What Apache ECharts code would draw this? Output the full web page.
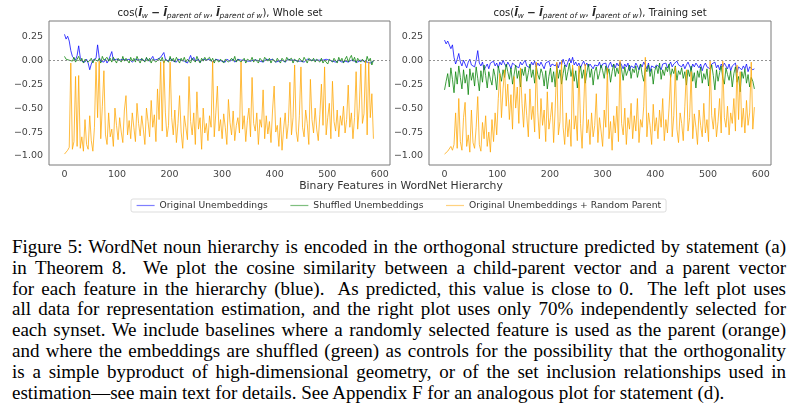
<!DOCTYPE html>
<html lang="en">
<head>
  <meta charset="UTF-8">
  <title>WordNet hierarchy</title>
  <style>
    body { margin: 0; background: #fff; }
    #echart { position: absolute; left: 0; top: 0; width: 797px; height: 222px; }
    #caption {
      position: absolute; left: 12px; top: 237px; width: 774px;
      font-family: "Liberation Serif", serif; font-size: 19px; line-height: 20.8px; color: #000;
    }
    #caption div { text-align: justify; text-align-last: justify; }
    #caption div.last { text-align-last: left; }
  </style>
</head>
<body>
  <div id="echart"></div>
  <div id="caption">
    <div>Figure 5: WordNet noun hierarchy is encoded in the orthogonal structure predicted by statement (a)</div>
    <div>in Theorem 8.&nbsp; We plot the cosine similarity between a child-parent vector and a parent vector</div>
    <div>for each feature in the hierarchy (blue).&nbsp; As predicted, this value is close to 0.&nbsp; The left plot uses</div>
    <div>all data for representation estimation, and the right plot uses only 70% independently selected for</div>
    <div>each synset. We include baselines where a randomly selected feature is used as the parent (orange)</div>
    <div>and where the embeddings are shuffled (green) as controls for the possibility that the orthogonality</div>
    <div>is a simple byproduct of high-dimensional geometry, or of the set inclusion relationships used in</div>
    <div class="last">estimation—see main text for details. See Appendix F for an analogous plot for statement (d).</div>
  </div>
  <script src="https://cdn.jsdelivr.net/npm/echarts@6/dist/echarts.min.js"></script>
  <script>
    // one value every 3 features (feature index = i * STEP)
    var STEP = 3;
    var xTicks = [0, 100, 200, 300, 400, 500, 600];
    var yTicks = [-1, -0.75, -0.5, -0.25, 0, 0.25];
    var names = ['Original Unembeddings', 'Shuffled Unembeddings', 'Original Unembeddings + Random Parent'];

    // whole set
    var wholeOrig = [
      0.27, 0.22, 0.25, 0.20, 0.10, 0.04, 0.02, 0.00, 0.05, 0.15,
      0.03, -0.01, 0.00, -0.02, 0.01, -0.03, -0.10, -0.04, 0.00, -0.02,
      0.02, 0.16, 0.03, -0.01, 0.00, -0.02, 0.01, -0.03, 0.00, 0.02,
      0.09, 0.00, -0.02, 0.01, -0.01, 0.00, -0.02, 0.01, -0.01, 0.00,
      -0.01, 0.01, 0.00, -0.02, 0.00, 0.01, -0.01, 0.00, -0.02, 0.01,
      0.00, -0.01, 0.02, 0.00, -0.01, 0.01, 0.04, 0.00, -0.02, 0.01,
      0.00, 0.03, 0.02, 0.08, 0.01, 0.00, -0.01, 0.02, 0.00, -0.01,
      0.00, -0.02, 0.01, -0.01, 0.00, 0.02, -0.01, 0.00, -0.03, 0.01,
      0.05, 0.00, 0.03, -0.01, 0.00, 0.01, -0.02, 0.00, 0.01, -0.01,
      0.00, -0.01, 0.01, 0.00, -0.02, 0.00, 0.01, -0.01, 0.00, 0.01,
      -0.01, 0.00, -0.02, 0.01, 0.00, -0.01, 0.00, 0.01, -0.02, 0.00,
      0.01, -0.01, 0.00, -0.02, 0.00, 0.01, -0.01, 0.00, -0.01, 0.01,
      0.00, -0.02, 0.00, 0.01, -0.01, 0.00, -0.02, 0.00, 0.01, -0.01,
      0.00, -0.01, 0.01, 0.00, -0.02, 0.00, -0.01, 0.01, 0.00, -0.01,
      -0.02, 0.00, 0.01, -0.01, 0.00, -0.02, 0.00, 0.01, -0.01, 0.00,
      -0.01, 0.00, -0.02, 0.00, 0.01, -0.01, 0.00, -0.02, 0.00, -0.01,
      0.00, -0.01, 0.00, -0.02, 0.00, -0.01, 0.01, -0.01, 0.00, -0.02,
      -0.01, 0.00, -0.02, -0.01, 0.00, -0.01, -0.02, 0.00, -0.01, 0.00,
      -0.02, -0.01, 0.00, -0.02, -0.01, 0.00, -0.02, -0.01, 0.00, -0.02,
      -0.01, 0.00, -0.02, -0.01, -0.03, -0.01, -0.01
    ];
    var wholeShuffled = [
      0.04, 0.01, 0.03, 0.00, 0.02, -0.01, 0.03, -0.02, 0.01, 0.04,
      -0.01, 0.02, -0.03, 0.01, 0.03, -0.02, 0.00, 0.02, -0.03, 0.01,
      0.03, -0.01, 0.02, -0.03, 0.04, 0.00, -0.02, 0.03, -0.01, 0.02,
      -0.02, 0.03, 0.00, -0.03, 0.02, 0.01, -0.02, 0.04, -0.01, 0.02,
      0.00, -0.03, 0.03, -0.01, 0.02, -0.02, 0.04, 0.00, -0.03, 0.02,
      0.01, -0.02, 0.03, -0.01, 0.02, -0.03, 0.01, 0.03, -0.02, 0.00,
      0.02, -0.01, 0.03, -0.03, 0.01, 0.02, -0.02, 0.04, -0.01, 0.02,
      -0.02, 0.03, 0.00, -0.03, 0.02, -0.01, 0.03, -0.02, 0.01, 0.02,
      -0.03, 0.02, 0.01, -0.02, 0.04, 0.00, -0.03, 0.02, -0.01, 0.03,
      0.00, -0.02, 0.03, -0.01, 0.02, -0.03, 0.01, 0.03, -0.02, 0.01,
      0.02, -0.03, 0.01, 0.03, -0.02, 0.00, 0.02, -0.01, 0.04, -0.02,
      0.01, 0.03, -0.02, 0.00, 0.02, -0.03, 0.01, 0.02, -0.01, 0.03,
      -0.02, 0.01, 0.03, -0.03, 0.02, 0.00, -0.02, 0.03, 0.01, -0.01,
      0.02, -0.03, 0.01, 0.03, -0.02, 0.02, 0.00, -0.03, 0.02, 0.01,
      -0.02, 0.03, 0.00, -0.01, 0.02, -0.03, 0.01, 0.03, -0.02, 0.02,
      0.00, -0.02, 0.03, 0.01, -0.03, 0.02, 0.04, -0.01, 0.02, -0.02,
      0.01, 0.03, -0.02, 0.02, -0.03, 0.00, 0.02, -0.04, 0.01, 0.03,
      -0.02, 0.02, 0.00, -0.03, 0.03, -0.01, 0.02, -0.03, 0.01, 0.04,
      -0.02, 0.02, 0.05, -0.01, 0.03, -0.03, 0.02, 0.04, -0.02, 0.01,
      0.03, -0.03, 0.04, -0.01, 0.02, -0.05, 0.00
    ];
    var wholeRandom = [
      -0.98, -0.96, -0.94, -0.91, -0.03, -0.93, -0.85, -0.17, -0.90, -0.16,
      -0.92, -0.80, -0.95, -0.62, -0.88, -0.93, -0.58, -0.84, -0.95, -0.70,
      -0.02, -0.60, -0.01, -0.82, -0.48, -0.11, -0.78, -0.88, -0.55, -0.80,
      -0.72, -0.90, -0.50, -0.68, -0.83, -0.60, -0.75, -0.86, -0.52, -0.37,
      -0.78, -0.63, -0.82, -0.55, -0.70, -0.85, -0.45, -0.66, -0.79, -0.58,
      -0.72, -0.88, -0.50, -0.64, -0.80, -0.42, -0.70, -0.57, -0.85, -0.30,
      -0.62, -0.02, -0.74, -0.01, -0.55, -0.80, -0.68, -0.02, -0.60, -0.78,
      -0.52, -0.86, -0.66, -0.37, -0.75, -0.92, -0.58, -0.70, -0.83, -0.17,
      -0.64, -0.78, -0.55, -0.88, -0.33, -0.72, -0.60, -0.93, -0.50, -0.76,
      -0.66, -0.84, -0.58, -0.70, -0.01, -0.80, -0.55, -0.27, -0.74, -0.62,
      -0.82, -0.56, -0.70, -0.88, -0.41, -0.65, -0.78, -0.53, -0.84, -0.68,
      -0.60, -0.76, -0.02, -0.72, -0.58, -0.85, -0.63, -0.50, -0.80, -0.18,
      -0.66, -0.74, -0.55, -0.88, -0.62, -0.70, -0.31, -0.82, -0.58, -0.77,
      -0.64, -0.86, -0.52, -0.27, -0.75, -0.68, -0.90, -0.60, -0.94, -0.72,
      -0.55, -0.82, -0.66, -0.23, -0.78, -0.60, -0.05, -0.74, -0.85, -0.58,
      -0.07, -0.70, -0.80, -0.52, -0.66, -0.88, -0.20, -0.62, -0.76, -0.50,
      -0.72, -0.84, -0.57, -0.25, -0.68, -0.07, -0.78, -0.60, -0.45, -0.82,
      -0.22, -0.64, -0.74, -0.52, -0.80, -0.58, -0.68, -0.48, -0.76, -0.62,
      -0.26, -0.70, -0.55, -0.82, -0.60, -0.12, -0.72, -0.50, -0.04, -0.66,
      -0.56, -0.01, -0.78, -0.02, -0.60, -0.35, -0.82
    ];

    // training set
    var trainOrig = [
      0.21, 0.17, 0.20, 0.19, 0.12, 0.16, 0.03, -0.04, 0.01, 0.07,
      -0.02, -0.06, 0.00, -0.04, -0.08, -0.02, 0.01, -0.05, -0.03, -0.07,
      0.00, 0.10, -0.03, -0.06, -0.02, -0.10, -0.07, -0.04, -0.09, -0.03,
      -0.05, -0.01, -0.06, -0.03, -0.08, -0.02, -0.05, 0.00, -0.04, -0.07,
      -0.02, -0.05, -0.09, -0.03, -0.01, -0.06, -0.04, -0.08, -0.02, -0.05,
      -0.03, 0.00, -0.06, -0.04, -0.08, -0.02, -0.05, -0.01, -0.07, -0.03,
      -0.06, -0.02, -0.04, -0.09, -0.03, -0.05, -0.01, -0.07, -0.04, -0.02,
      -0.06, -0.03, -0.08, -0.02, -0.05, 0.01, -0.04, -0.07, -0.02, 0.02,
      -0.03, 0.03, -0.05, -0.02, -0.06, -0.03, -0.08, -0.04, -0.01, -0.06,
      -0.03, -0.07, -0.04, -0.02, -0.09, -0.05, -0.03, -0.06, -0.02, -0.08,
      -0.04, -0.06, -0.03, -0.10, -0.05, -0.02, -0.07, -0.04, -0.08, -0.03,
      -0.06, -0.02, -0.05, -0.09, -0.04, -0.07, -0.03, -0.11, -0.06, -0.04,
      -0.08, -0.03, -0.06, -0.10, -0.04, -0.07, -0.02, -0.05, -0.09, -0.03,
      -0.12, -0.06, -0.04, -0.08, -0.05, -0.03, -0.07, -0.10, -0.04, -0.06,
      -0.03, -0.08, -0.05, -0.02, -0.07, -0.04, -0.06, -0.01, -0.05, -0.03,
      -0.07, -0.04, -0.09, -0.05, -0.02, -0.06, -0.10, -0.04, -0.07, -0.03,
      -0.05, -0.08, -0.04, -0.11, -0.06, -0.03, -0.07, -0.05, -0.09, -0.04,
      -0.06, -0.02, -0.08, -0.05, -0.10, -0.04, -0.07, -0.03, -0.06, -0.09,
      -0.04, -0.11, -0.06, -0.08, -0.03, -0.13, -0.07, -0.05, -0.10, -0.06,
      -0.09, -0.04, -0.12, -0.07, -0.05, -0.10, -0.09
    ];
    var trainShuffled = [
      -0.31, -0.22, -0.14, -0.28, -0.08, -0.20, -0.34, -0.12, -0.25, -0.06,
      -0.18, -0.30, -0.10, -0.24, -0.15, -0.36, -0.09, -0.21, -0.13, -0.27,
      -0.07, -0.19, -0.32, -0.11, -0.23, -0.05, -0.16, -0.29, -0.12, -0.20,
      -0.26, -0.09, -0.17, -0.31, -0.06, -0.14, -0.22, -0.10, -0.18, -0.04,
      -0.12, -0.20, -0.08, -0.25, -0.15, -0.05, -0.19, -0.11, -0.28, -0.09,
      -0.16, -0.07, -0.22, -0.13, -0.04, -0.18, -0.10, -0.24, -0.06, -0.15,
      -0.20, -0.09, -0.14, -0.27, -0.11, -0.30, -0.17, -0.08, -0.23, -0.12,
      -0.28, -0.06, -0.19, -0.10, -0.25, -0.14, -0.05, -0.21, -0.12, -0.03,
      -0.17, -0.08, -0.22, -0.11, -0.29, -0.15, -0.06, -0.19, -0.10, -0.24,
      -0.13, -0.04, -0.18, -0.09, -0.26, -0.12, -0.07, -0.20, -0.14, -0.05,
      -0.11, -0.19, -0.06, -0.15, -0.09, -0.23, -0.12, -0.04, -0.17, -0.08,
      -0.14, -0.03, -0.10, -0.21, -0.07, -0.16, -0.11, -0.05, -0.19, -0.09,
      -0.13, -0.06, -0.18, -0.10, -0.04, -0.15, -0.22, -0.08, -0.12, -0.05,
      -0.17, -0.09, -0.25, -0.11, -0.06, -0.14, -0.03, -0.20, -0.10, -0.16,
      -0.07, -0.12, -0.04, -0.18, -0.09, -0.14, -0.06, -0.21, -0.11, -0.15,
      -0.08, -0.19, -0.12, -0.26, -0.10, -0.17, -0.06, -0.22, -0.13, -0.29,
      -0.11, -0.18, -0.07, -0.24, -0.14, -0.20, -0.09, -0.27, -0.12, -0.05,
      -0.16, -0.31, -0.10, -0.22, -0.13, -0.06, -0.19, -0.25, -0.08, -0.15,
      -0.21, -0.11, -0.28, -0.14, -0.07, -0.23, -0.17, -0.33, -0.12, -0.19,
      -0.09, -0.24, -0.15, -0.28, -0.18, -0.22, -0.30
    ];
    var trainRandom = [
      -0.98, -0.96, -0.95, -0.93, -0.90, -0.94, -0.88, -0.55, -0.92, -0.40,
      -0.85, -0.94, -0.60, -0.44, -0.90, -0.78, -0.96, -0.52, -0.86, -0.92,
      -0.70, -0.38, -0.88, -0.95, -0.65, -0.82, -0.58, -0.90, -0.75, -0.96,
      -0.62, -0.85, -0.55, -0.78, -0.40, -0.14, -0.60, -0.30, -0.10, -0.48,
      -0.25, -0.62, -0.36, -0.72, -0.17, -0.50, -0.28, -0.66, -0.08, -0.45,
      -0.70, -0.35, -0.58, -0.80, -0.30, -0.62, -0.48, -0.75, -0.02, -0.55,
      -0.82, -0.40, -0.68, -0.52, -0.85, -0.33, -0.72, -0.60, -0.44, -0.86,
      -0.50, -0.02, -0.78, -0.64, -0.01, -0.70, -0.88, -0.55, -0.80, -0.62,
      -0.90, -0.05, -0.72, -0.58, -0.84, -0.06, -0.66, -0.92, -0.50, -0.04,
      -0.76, -0.62, -0.88, -0.55, -0.80, -0.68, -0.35, -0.86, -0.60, -0.74,
      -0.90, -0.52, -0.70, -0.08, -0.82, -0.64, -0.94, -0.58, -0.76, -0.48,
      -0.85, 0.00, -0.66, -0.78, -0.50, -0.88, -0.60, -0.72, -0.45, -0.82,
      -0.58, -0.74, -0.40, -0.86, -0.62, -0.70, -0.48, 0.03, -0.80, -0.55,
      -0.68, -0.88, -0.46, -0.74, -0.60, -0.82, -0.52, -0.70, -0.40, -0.84,
      -0.62, -0.76, -0.50, -0.15, -0.80, -0.58, -0.07, -0.72, -0.86, -0.55,
      -0.66, -0.84, -0.48, -0.10, -0.74, -0.60, -0.12, -0.82, -0.56, -0.70,
      -0.88, -0.52, -0.68, -0.80, -0.45, -0.76, -0.62, -0.85, -0.01, -0.58,
      -0.72, -0.50, -0.80, -0.64, -0.40, -0.76, -0.01, -0.60, -0.70, -0.48,
      -0.78, -0.55, -0.66, -0.40, -0.74, -0.05, -0.62, -0.12, -0.70, -0.50,
      -0.76, -0.42, -0.68, -0.55, -0.02, -0.72, -0.49
    ];

    var colors = ['#0000ff', '#008000', '#ffa500'];
    var font = 'DejaVu Sans';

    function pairs(vals) {
      return vals.map(function (v, i) { return [i * STEP, v]; });
    }

    function line(k, idx, vals) {
      var s = {
        type: 'line',
        name: names[k],
        xAxisIndex: idx,
        yAxisIndex: idx,
        data: pairs(vals),
        symbol: 'none',
        z: 2 + k,
        color: colors[k],
        lineStyle: { color: colors[k], width: 1, opacity: 0.75 }
      };
      if (k === 0) {
        s.markLine = {
          silent: true, symbol: 'none', label: { show: false },
          lineStyle: { color: '#777', type: [2, 2], width: 0.8, opacity: 1 },
          data: [{ yAxis: 0 }]
        };
      }
      return s;
    }

    function xAxis(idx) {
      return {
        type: 'value', gridIndex: idx, min: -29.5, max: 619.5,
        axisLine: { show: false }, axisTick: { show: false }, splitLine: { show: false },
        axisLabel: { customValues: xTicks, fontSize: 9.5, color: '#444', fontFamily: font, margin: 5 }
      };
    }

    function yAxis(idx) {
      return {
        type: 'value', gridIndex: idx, min: -1.094, max: 0.409,
        axisLine: { show: false }, axisTick: { show: false }, splitLine: { show: false },
        axisLabel: {
          customValues: yTicks, fontSize: 9.5, color: '#444', fontFamily: font, margin: 6,
          formatter: function (v) { return (v < 0 ? '\u2212' : '') + Math.abs(v).toFixed(2); }
        }
      };
    }

    var titleRich = {
      b: { fontSize: 10.5, fontWeight: 'bold', fontStyle: 'italic', color: '#222', fontFamily: font },
      m: { fontSize: 10.5, fontWeight: 'bold', color: '#222', fontFamily: font },
      s: { fontSize: 7.5, fontStyle: 'italic', color: '#222', fontFamily: font, verticalAlign: 'bottom', lineHeight: 7 }
    };
    function plotTitle(x, label) {
      return {
        text: 'cos({b|l\u0304}{s|w} {m|\u2212} {b|l\u0304}{s|parent of w}, {b|l\u0304}{s|parent of w}), ' + label,
        left: x, top: 6, textAlign: 'center', padding: 0,
        textStyle: { fontSize: 10, fontWeight: 'normal', color: '#222', fontFamily: font, lineHeight: 14, rich: titleRich }
      };
    }

    var myChart = echarts.init(document.querySelector('#echart'));
    var option = {
      animation: false,
      textStyle: { fontFamily: font },
      title: [
        plotTitle(220, 'Whole set'),
        plotTitle(600, 'Training set'),
        {
          text: 'Binary Features in WordNet Hierarchy', left: 401, top: 181, textAlign: 'center', padding: 0,
          textStyle: { fontSize: 10.8, fontWeight: 'normal', color: '#333', fontFamily: font }
        }
      ],
      legend: {
        left: 131, top: 199, padding: [2, 5, 2, 5], itemGap: 22, itemWidth: 18, itemHeight: 10,
        borderColor: '#d4d4d4', borderWidth: 0.8, borderRadius: 2,
        itemStyle: { opacity: 0 },
        lineStyle: { width: 1.2, opacity: 0.5 },
        textStyle: { fontSize: 9.2, color: '#333', fontFamily: font },
        data: names
      },
      grid: [
        { left: 49, top: 21, width: 341, height: 144, show: true, borderColor: '#7a7a7a', borderWidth: 1 },
        { left: 429, top: 21, width: 342, height: 144, show: true, borderColor: '#7a7a7a', borderWidth: 1 }
      ],
      xAxis: [xAxis(0), xAxis(1)],
      yAxis: [yAxis(0), yAxis(1)],
      series: [
        line(0, 0, wholeOrig), line(1, 0, wholeShuffled), line(2, 0, wholeRandom),
        line(0, 1, trainOrig), line(1, 1, trainShuffled), line(2, 1, trainRandom)
      ]
    };
    myChart.setOption(option);
  </script>
</body>
</html>
